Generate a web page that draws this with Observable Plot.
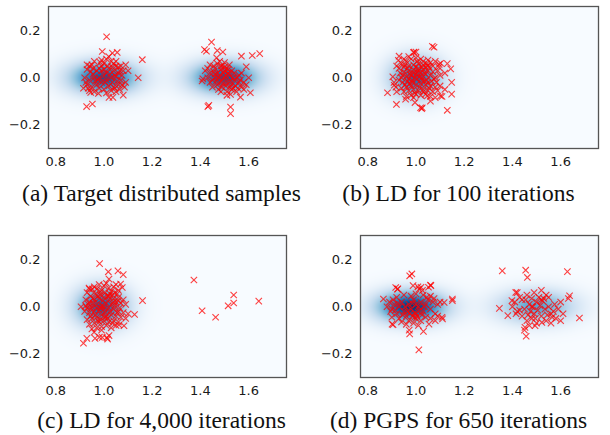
<!DOCTYPE html>
<html>
<head>
<meta charset="utf-8">
<script src="https://cdn.jsdelivr.net/npm/d3@7"></script>
<script src="https://cdn.jsdelivr.net/npm/@observablehq/plot@0.6"></script>
<style>
  html, body { margin: 0; padding: 0; background: #fff; }
  #root { position: relative; width: 610px; height: 435px; overflow: hidden; }
  .panel { position: absolute; }
  .cap { position: absolute; width: 305px; text-align: center; font-family: "Liberation Serif", "Times New Roman", serif; font-size: 23.5px; color: #111; white-space: nowrap; line-height: 1; }
</style>
</head>
<body>
<div id="root"></div>
<script>
// ---- tick labels / captions ----
const xTicks = [0.8, 1.0, 1.2, 1.4, 1.6];
const yTicks = [-0.2, 0.0, 0.2];
const captions = [
  "(a) Target distributed samples",
  "(b) LD for 100 iterations",
  "(c) LD for 4,000 iterations",
  "(d) PGPS for 650 iterations"
];

// ---- background density blobs: [cx, cy, sx, sy, weight] ----
const heatA = [[1.0, 0.0, 0.1, 0.05, 1.1], [1.5, 0.0, 0.1, 0.05, 1.1]];
const heatB = [[1.0, 0.0, 0.075, 0.062, 1.0]];
const heatC = [[0.99, 0.0, 0.075, 0.062, 1.05]];
const heatD = [[0.98, 0.0, 0.1, 0.048, 1.25], [1.5, 0.0, 0.11, 0.05, 0.72]];

// ---- samples (x, y) ----
const samplesA = [
  [1.011,0.175],[0.993,0.112],[1.035,0.105],[1.055,0.108],[1.159,0.077],[1.142,0.0],[0.928,-0.123],[0.952,-0.112],
  [1.08,-0.074],[1.021,-0.084],[1.037,-0.084],[0.945,-0.063],[0.977,-0.067],
  [0.94,0.05],[0.95,0.055],[0.96,0.07],[0.93,0.035],[0.945,0.025],[0.97,0.03],[0.98,0.04],[0.99,0.03],[1.0,0.06],
  [1.01,0.08],[1.02,0.09],[1.03,0.07],[1.04,0.06],[1.05,0.05],[1.06,0.045],[1.07,0.05],[1.09,0.055],[1.08,0.03],
  [1.06,0.02],[1.04,0.03],[1.02,0.04],[1.01,0.02],[1.0,0.01],[0.98,0.0],[0.96,0.0],[0.94,-0.01],[0.93,-0.03],
  [0.935,-0.045],[0.95,-0.04],[0.97,-0.03],[0.99,-0.02],[1.01,-0.01],[1.03,0.0],[1.05,0.005],[1.07,-0.01],[1.09,-0.02],
  [1.085,-0.04],[1.06,-0.03],[1.04,-0.04],[1.02,-0.035],[1.0,-0.05],[0.98,-0.045],[0.96,-0.06],[1.01,-0.065],
  [1.03,-0.055],[1.05,-0.06],[1.065,-0.05],[0.92,0.0],[0.925,-0.02],[1.0,0.035],[1.025,0.015],[1.045,0.01],
  [1.015,0.05],[0.985,0.065],[0.955,0.015],[1.075,0.01],[1.1,0.03],[1.035,-0.02],[0.965,-0.015],[1.055,-0.015],
  [0.93,0.055],[0.955,0.04],[0.99,0.05],[1.035,0.045],[1.065,0.03],[1.075,-0.03],[0.94,-0.055],[0.975,-0.01],
  [1.045,-0.045],[0.915,-0.045],[1.005,-0.02],[0.99,0.075],[1.05,0.07],
  // right mode
  [1.446,0.152],[1.417,0.12],[1.425,0.113],[1.47,0.116],[1.493,0.11],[1.57,0.092],[1.615,0.095],[1.646,0.103],
  [1.467,0.085],[1.59,0.047],[1.407,-0.014],[1.435,-0.118],[1.431,-0.123],[1.525,-0.125],[1.525,-0.153],
  [1.607,-0.064],[1.566,-0.083],[1.525,-0.071],
  [1.42,0.03],[1.43,0.0],[1.44,0.02],[1.45,-0.01],[1.46,0.04],[1.47,0.06],[1.48,0.07],[1.49,0.05],[1.5,0.065],
  [1.51,0.04],[1.52,0.055],[1.53,0.03],[1.54,0.02],[1.55,0.0],[1.56,-0.02],[1.57,-0.04],[1.58,-0.05],[1.55,-0.06],
  [1.53,-0.05],[1.51,-0.06],[1.49,-0.04],[1.47,-0.03],[1.45,-0.04],[1.44,-0.02],[1.46,0.0],[1.48,0.01],[1.5,0.0],
  [1.52,0.01],[1.54,-0.01],[1.49,-0.01],[1.47,0.02],[1.5,0.03],[1.51,-0.02],[1.53,-0.03],[1.48,-0.02],[1.46,0.015],
  [1.43,0.04],[1.455,0.05],[1.485,0.035],[1.515,0.02],[1.535,0.0],[1.505,-0.035],[1.475,-0.05],[1.52,-0.04],
  [1.545,-0.035],[1.56,0.01],[1.57,0.02],[1.58,-0.02],[1.59,-0.03],[1.6,0.0],[1.41,-0.005],[1.44,0.055],
  [1.495,0.02],[1.465,-0.015],[1.525,-0.015],[1.5,0.045],[1.555,-0.045],[1.51,-0.075],[1.485,-0.06],
  [1.475,0.0],[1.495,-0.025],[1.515,0.035],[1.485,0.05],[1.535,-0.045],[1.455,0.025],[1.565,-0.01],[1.505,0.01]
];

const samplesB = [
  [1.068,0.134],[1.075,0.13],[1.13,-0.139],[0.882,-0.064],[0.919,-0.114],[1.019,-0.128],[1.026,-0.128],[1.144,0.038],
  [1.148,-0.02],[1.148,-0.07],[1.102,-0.078],[1.108,-0.08],[1.13,0.06],[1.102,0.062],[0.904,0.004],[0.91,-0.032],
  [0.917,-0.04],[0.927,0.074],[0.99,0.107],[1.0,0.11],[0.93,0.092],[0.992,0.109],[1.024,-0.132],[1.096,0.057],
  [0.909,-0.02],[0.957,-0.092],[0.996,-0.106],[1.047,-0.078],[1.06,-0.1],
  [0.94,0.06],[0.95,0.08],[0.96,0.07],[0.97,0.09],[0.98,0.08],[1.0,0.085],[1.02,0.08],[1.03,0.07],[1.05,0.075],
  [1.06,0.065],[1.08,0.07],[1.07,0.05],[1.05,0.05],[1.03,0.055],[1.01,0.06],[0.99,0.055],[0.97,0.05],[0.95,0.045],
  [0.93,0.04],[0.935,0.02],[0.95,0.025],[0.97,0.03],[0.99,0.035],[1.01,0.04],[1.03,0.035],[1.05,0.03],[1.07,0.025],
  [1.09,0.03],[1.1,0.01],[1.08,0.0],[1.06,0.01],[1.04,0.015],[1.02,0.02],[1.0,0.015],[0.98,0.01],[0.96,0.005],
  [0.94,0.0],[0.93,-0.01],[0.945,-0.02],[0.965,-0.015],[0.985,-0.01],[1.005,-0.005],[1.025,0.0],[1.045,-0.01],
  [1.065,-0.015],[1.085,-0.02],[1.1,-0.035],[1.08,-0.04],[1.06,-0.035],[1.04,-0.03],[1.02,-0.025],[1.0,-0.03],
  [0.98,-0.035],[0.96,-0.04],[0.94,-0.045],[0.95,-0.06],[0.97,-0.055],[0.99,-0.05],[1.01,-0.055],[1.03,-0.05],
  [1.05,-0.055],[1.07,-0.06],[1.09,-0.055],[1.0,-0.07],[1.02,-0.075],[0.98,-0.075],[1.04,-0.07],[0.96,-0.08],
  [1.06,-0.08],[1.08,-0.085],[0.975,0.015],[0.995,0.0],[1.015,0.005],[1.035,-0.015],[1.055,0.045],[1.045,0.06],
  [1.025,0.045],[1.005,0.025],[0.985,-0.02],[1.015,-0.04],[1.035,0.02],[0.955,0.055],[1.075,-0.005],[1.095,0.045],
  [1.12,0.02],[1.12,-0.05],[0.92,0.05],[0.92,-0.06],[1.0,0.045],[0.99,-0.085],[1.05,-0.02],[0.97,-0.005],
  [0.965,0.04],[1.005,0.07],[1.04,0.045],[0.945,0.01],[1.025,-0.01],[0.975,-0.025],[1.055,-0.045],[0.995,-0.065],
  [1.01,0.03],[0.99,0.02],[1.03,-0.06],[0.955,-0.03]
];

const samplesC = [
  [0.982,0.184],[0.915,-0.156],[1.16,0.026],[1.127,-0.033],[1.018,0.149],[1.058,0.153],[1.08,0.137],[1.021,0.118],
  [1.069,0.097],[1.076,0.082],[0.929,-0.135],[0.963,-0.135],[0.981,-0.13],[1.012,-0.132],[1.015,-0.138],
  [0.905,0.0],[1.083,-0.081],[1.062,-0.078],[0.959,-0.109],[0.993,-0.131],[1.021,-0.123],[0.952,0.075],
  [0.938,0.08],[0.924,0.004],[0.945,-0.04],
  [0.93,0.06],[0.94,0.075],[0.96,0.085],[0.98,0.095],[1.0,0.09],[1.02,0.08],[1.04,0.085],[1.05,0.095],[1.06,0.07],
  [1.045,0.06],[1.025,0.055],[1.005,0.06],[0.985,0.065],[0.965,0.055],[0.945,0.045],[0.925,0.03],[0.94,0.02],
  [0.96,0.03],[0.98,0.035],[1.0,0.04],[1.02,0.03],[1.04,0.035],[1.06,0.04],[1.08,0.03],[1.09,0.01],[1.07,0.015],
  [1.05,0.02],[1.03,0.01],[1.01,0.015],[0.99,0.005],[0.97,0.01],[0.95,0.0],[0.93,-0.005],[0.92,-0.02],[0.94,-0.025],
  [0.96,-0.02],[0.98,-0.015],[1.0,-0.01],[1.02,-0.005],[1.04,-0.01],[1.06,-0.02],[1.08,-0.025],[1.1,-0.03],
  [1.09,-0.05],[1.07,-0.045],[1.05,-0.04],[1.03,-0.035],[1.01,-0.04],[0.99,-0.035],[0.97,-0.045],[0.95,-0.05],
  [0.93,-0.055],[0.94,-0.075],[0.96,-0.07],[0.98,-0.065],[1.0,-0.06],[1.02,-0.065],[1.04,-0.06],[1.06,-0.065],
  [0.95,-0.095],[0.97,-0.09],[0.99,-0.085],[1.01,-0.08],[1.03,-0.09],[0.975,0.045],[0.995,0.025],[1.015,0.045],
  [1.035,0.05],[0.955,0.015],[0.985,-0.005],[1.005,-0.025],[1.025,-0.02],[1.045,0.005],[0.965,-0.035],
  [0.985,-0.055],[1.015,-0.05],[1.055,0.055],[0.935,0.01],[1.065,-0.005],[0.99,0.07],[1.01,0.1],[0.97,0.075],
  [1.05,-0.08],[0.99,-0.1],[1.0,0.0],[0.97,-0.005],[1.03,0.065],
  [1.04,0.02],[1.06,0.025],[1.02,0.045],[0.955,0.035],[0.975,-0.06],[1.035,-0.07],[1.005,-0.045],[1.055,-0.025],
  [0.945,-0.01],[0.985,0.05],
  // stray samples near the second mode
  [1.373,0.114],[1.407,-0.017],[1.463,-0.045],[1.515,0.004],[1.538,0.05],[1.538,0.016],[1.642,0.024]
];

const samplesD = [
  [1.012,-0.184],[0.865,0.033],[0.905,-0.077],[0.895,-0.02],[0.974,-0.116],[0.972,-0.1],[0.974,0.132],[0.983,0.14],
  [0.916,0.082],[0.925,0.076],[0.988,0.09],[1.008,0.085],[1.021,0.083],[1.06,0.092],[1.052,0.083],[1.151,0.033],
  [1.151,0.026],[1.11,-0.052],[1.108,-0.045],[1.031,-0.105],[0.923,0.075],[1.013,0.075],[1.027,0.07],[1.062,0.09],
  [0.901,-0.074],[1.054,-0.074],[1.117,0.018],
  [0.88,0.0],[0.89,0.02],[0.9,-0.01],[0.91,0.01],[0.92,-0.03],[0.93,0.0],[0.94,0.02],[0.95,-0.02],[0.96,-0.04],
  [0.97,0.01],[0.98,-0.01],[0.99,0.03],[1.0,-0.03],[1.01,0.0],[1.02,0.02],[1.03,-0.02],[1.04,0.01],[1.05,0.03],
  [1.06,-0.01],[1.07,0.02],[1.08,-0.03],[1.09,0.01],[1.1,0.02],[0.92,0.04],[0.95,0.05],[0.98,0.045],[1.0,0.055],
  [1.03,0.05],[1.06,0.045],[0.9,-0.045],[0.93,-0.05],[0.94,-0.065],[0.97,-0.06],[0.99,-0.07],[1.0,-0.05],
  [1.02,-0.06],[1.04,-0.045],[1.06,-0.05],[1.08,-0.06],[0.96,-0.075],[1.01,-0.08],[0.985,-0.04],[0.995,-0.045],
  [1.005,-0.04],[0.975,-0.03],[0.965,-0.02],[0.955,0.0],[0.945,-0.035],[1.015,-0.015],[1.025,-0.035],[1.035,0.0],
  [0.925,0.015],[0.915,-0.015],[0.985,0.015],[1.045,0.04],[1.075,0.035],[1.09,-0.04],[0.905,0.03],[0.995,-0.025],
  [1.0,0.01],
  // right mode
  [1.358,0.153],[1.455,0.156],[1.462,0.125],[1.628,0.15],[1.346,-0.007],[1.381,-0.038],[1.678,-0.048],
  [1.457,-0.126],[1.45,-0.1],[1.637,0.047],[1.632,0.035],[1.414,0.061],[1.398,0.026],[1.452,-0.088],
  [1.494,-0.081],[1.522,-0.067],
  [1.4,0.0],[1.41,0.02],[1.42,-0.02],[1.43,0.04],[1.44,0.03],[1.45,-0.01],[1.46,0.05],[1.47,0.01],[1.48,0.0],
  [1.49,-0.03],[1.5,0.02],[1.51,0.04],[1.52,0.03],[1.53,0.035],[1.54,0.05],[1.55,0.0],[1.56,-0.03],[1.57,-0.02],
  [1.58,-0.05],[1.59,-0.01],[1.6,0.02],[1.61,-0.03],[1.44,-0.04],[1.46,-0.06],[1.48,-0.05],[1.5,-0.07],
  [1.52,-0.04],[1.54,-0.06],[1.56,-0.07],[1.47,-0.08],[1.49,0.06],[1.52,0.07],[1.455,0.03],[1.475,-0.02],
  [1.485,0.0],[1.505,-0.015],[1.525,0.025],[1.535,-0.01],[1.545,-0.035],[1.565,-0.045],[1.575,0.01],[1.43,-0.015],
  [1.415,-0.03],[1.465,-0.035],[1.495,-0.05],[1.515,0.005],[1.6,-0.06],[1.55,0.04],[1.48,0.035],[1.42,0.06]
];

// ---- build panels ----
const xDomain = [0.77, 1.757];
const yDomain = [-0.302, 0.304];

function density(blobs) {
  return (x, y) => {
    let v = 0;
    for (const [cx, cy, sx, sy, w] of blobs) {
      const dx = (x - cx) / sx, dy = (y - cy) / sy;
      v += w * Math.exp(-0.5 * (dx * dx + dy * dy));
    }
    return v;
  };
}

function panel(samples, blobs, marginLeft, marginRight) {
  return Plot.plot({
    width: 305,
    height: 172,
    marginTop: 6,
    marginBottom: 24,
    marginLeft,
    marginRight,
    style: { fontFamily: "DejaVu Sans", fontSize: "13px", color: "#1a1a1a", background: "transparent" },
    x: { domain: xDomain, ticks: xTicks, tickFormat: d3.format(".1f"), tickSize: 0, tickPadding: 8, label: null },
    y: { domain: yDomain, ticks: yTicks, tickFormat: d3.format(".1f"), tickSize: 0, tickPadding: 8, label: null },
    color: { type: "linear", scheme: "blues", domain: [0, 1.3], clamp: true },
    marks: [
      Plot.raster({
        fill: density(blobs),
        x1: xDomain[0], x2: xDomain[1], y1: yDomain[0], y2: yDomain[1],
        width: 240, height: 142
      }),
      Plot.frame({ stroke: "#555", strokeWidth: 1.3 }),
      Plot.dot(samples, {
        x: d => d[0], y: d => d[1], symbol: "times", r: 3,
        stroke: "#ff0000", strokeOpacity: 0.75, strokeWidth: 1.1
      })
    ]
  });
}

const root = document.getElementById("root");
const layout = [
  { s: samplesA, h: heatA, left: 0,   top: 0,   ml: 48, mr: 19, capTop: 182 },
  { s: samplesB, h: heatB, left: 305, top: 0,   ml: 55, mr: 12, capTop: 182 },
  { s: samplesC, h: heatC, left: 0,   top: 229, ml: 48, mr: 19, capTop: 409 },
  { s: samplesD, h: heatD, left: 305, top: 229, ml: 55, mr: 12, capTop: 409 }
];
layout.forEach((p, i) => {
  const wrap = document.createElement("div");
  wrap.className = "panel";
  wrap.style.left = p.left + "px";
  wrap.style.top = p.top + "px";
  wrap.appendChild(panel(p.s, p.h, p.ml, p.mr));
  root.appendChild(wrap);
  const cap = document.createElement("div");
  cap.className = "cap";
  cap.style.left = (p.left + (i % 2 === 0 ? 9 : 1)) + "px";
  cap.style.top = p.capTop + "px";
  cap.textContent = captions[i];
  root.appendChild(cap);
});
</script>
</body>
</html>
